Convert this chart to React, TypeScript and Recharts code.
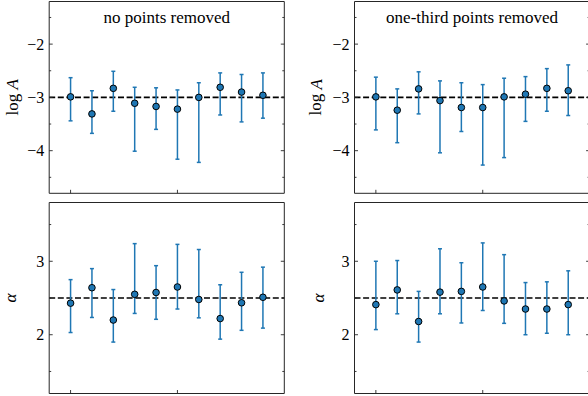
import React from "react";
import { ErrorBar, ReferenceLine, Scatter, ScatterChart, XAxis, YAxis } from "recharts";

const FONT = "'Liberation Serif', 'Times New Roman', serif";
const BLUE = "#1f77b4";
const FRAME = "#262626";

// ten repeated fits, x = run index
const runs = [0, 1, 2, 3, 4, 5, 6, 7, 8, 9];
const xTicks = [0, 5];
const logATicks = [-4.5, -4, -3.5, -3, -2.5, -2, -1.5];
const alphaTicks = [1.5, 2, 2.5, 3, 3.5];
const logATrue = -3;
const alphaTrue = 2.5;

// log A, all points kept
const logAFull = [-2.99, -3.31, -2.83, -3.11, -3.17, -3.22, -3.0, -2.81, -2.9, -2.96];
const logAFullLow = [-3.44, -3.675, -3.26, -4.01, -3.6, -4.16, -4.22, -3.33, -3.46, -3.39];
const logAFullHigh = [-2.63, -2.875, -2.51, -2.81, -2.82, -2.86, -2.725, -2.54, -2.57, -2.54];

// log A, one third of the points removed
const logAThird = [-2.99, -3.24, -2.84, -3.06, -3.19, -3.19, -2.99, -2.94, -2.83, -2.875];
const logAThirdLow = [-3.61, -3.85, -3.31, -4.04, -3.64, -4.27, -4.13, -3.45, -3.26, -3.34];
const logAThirdHigh = [-2.62, -2.84, -2.52, -2.69, -2.725, -2.76, -2.64, -2.61, -2.46, -2.39];

// alpha, all points kept
const alphaFull = [2.43, 2.64, 2.2, 2.55, 2.575, 2.65, 2.48, 2.22, 2.435, 2.51];
const alphaFullLow = [2.03, 2.235, 1.9, 2.29, 2.21, 2.35, 2.23, 1.94, 2.06, 2.09];
const alphaFullHigh = [2.75, 2.9, 2.615, 3.24, 2.94, 3.23, 3.16, 2.68, 2.85, 2.92];

// alpha, one third of the points removed
const alphaThird = [2.41, 2.61, 2.18, 2.58, 2.59, 2.65, 2.46, 2.35, 2.35, 2.41];
const alphaThirdLow = [2.07, 2.285, 1.9, 2.285, 2.16, 2.33, 2.155, 2.0, 2.02, 2.0];
const alphaThirdHigh = [3.0, 3.01, 2.59, 3.17, 2.98, 3.25, 3.09, 2.71, 2.72, 2.87];

function rows(values: number[], low: number[], high: number[]) {
  return runs.map((x, i) => ({
    x,
    y: values[i],
    err: [values[i] - low[i], high[i] - values[i]],
  }));
}

const isMajor = (v: number) => Math.abs(v - Math.round(v)) < 1e-6;
const fmt = (v: number) => (v < 0 ? "\u2212" + Math.abs(v) : String(v));

// ticks point inwards on every side, like matplotlib's direction="in"
function Tick(props: any) {
  const { x, y, payload, side } = props;
  const v = Number(payload.value);
  const len = side === "left" || side === "right" ? (isMajor(v) ? 3.5 : 2) : 3.5;
  if (side === "left") {
    return (
      <g>
        <line x1={x} y1={y} x2={x + len} y2={y} stroke={FRAME} strokeWidth={0.9} />
        {isMajor(v) && (
          <text x={x - 5} y={y} textAnchor="end" dominantBaseline="central" fontFamily={FONT} fontSize={16} fill="#000">
            {fmt(v)}
          </text>
        )}
      </g>
    );
  }
  if (side === "right") return <line x1={x} y1={y} x2={x - len} y2={y} stroke={FRAME} strokeWidth={0.9} />;
  if (side === "top") return <line x1={x} y1={y} x2={x} y2={y + len} stroke={FRAME} strokeWidth={0.9} />;
  return <line x1={x} y1={y} x2={x} y2={y - len} stroke={FRAME} strokeWidth={0.9} />;
}

function Dot(props: any) {
  const { cx, cy } = props;
  return <circle cx={cx} cy={cy} r={3.3} fill={BLUE} stroke="#000" strokeWidth={1} />;
}

interface PanelProps {
  left: number;
  top: number;
  height: number;
  yLeft: number;
  yRight: number;
  xTop: number;
  xBottom: number;
  data: { x: number; y: number; err: number[] }[];
  domain: [number, number];
  ticks: number[];
  truth: number;
  title?: string;
  label: "logA" | "alpha";
  labelOffset: number;
}

function Panel(p: PanelProps) {
  const axis = { stroke: FRAME, strokeWidth: 1 };
  return (
    <div style={{ position: "absolute", left: p.left, top: p.top }}>
      <ScatterChart width={300} height={p.height} margin={{ top: 0, right: 0, bottom: 0, left: 0 }}>
        <XAxis
          xAxisId="b"
          type="number"
          dataKey="x"
          domain={[-1, 10]}
          ticks={xTicks}
          interval={0}
          height={p.xBottom}
          axisLine={axis}
          tickLine={false}
          tickSize={0}
          tickMargin={0}
          tick={<Tick side="bottom" />}
        />
        <XAxis
          xAxisId="t"
          orientation="top"
          type="number"
          domain={[-1, 10]}
          ticks={xTicks}
          interval={0}
          height={p.xTop}
          axisLine={axis}
          tickLine={false}
          tickSize={0}
          tickMargin={0}
          tick={<Tick side="top" />}
          label={(lp: any) => {
            if (!p.title) return null;
            const vb = lp.viewBox || {};
            return (
              <text x={vb.x + vb.width / 2} y={23} textAnchor="middle" fontFamily={FONT} fontSize={17} fill="#000">
                {p.title}
              </text>
            );
          }}
        />
        <YAxis
          yAxisId="l"
          type="number"
          dataKey="y"
          domain={p.domain}
          ticks={p.ticks}
          interval={0}
          width={p.yLeft}
          axisLine={axis}
          tickLine={false}
          tickSize={0}
          tickMargin={0}
          allowDataOverflow
          tick={<Tick side="left" />}
          label={(lp: any) => {
            const vb = lp.viewBox || {};
            const cx = vb.x + vb.width - p.labelOffset;
            const cy = vb.y + vb.height / 2;
            return (
              <text
                x={cx}
                y={cy}
                transform={`rotate(-90 ${cx} ${cy})`}
                textAnchor="middle"
                dominantBaseline="central"
                fontFamily={FONT}
                fontSize={17}
                fill="#000"
              >
                {p.label === "logA" ? (
                  <>
                    log <tspan fontStyle="italic">A</tspan>
                  </>
                ) : (
                  <tspan fontStyle="italic">α</tspan>
                )}
              </text>
            );
          }}
        />
        <YAxis
          yAxisId="r"
          orientation="right"
          type="number"
          domain={p.domain}
          ticks={p.ticks}
          interval={0}
          width={p.yRight}
          axisLine={axis}
          tickLine={false}
          tickSize={0}
          tickMargin={0}
          allowDataOverflow
          tick={<Tick side="right" />}
        />
        <ReferenceLine
          xAxisId="b"
          yAxisId="l"
          y={p.truth}
          stroke="#000"
          strokeWidth={1.6}
          strokeDasharray="6 2.6"
        />
        <Scatter xAxisId="b" yAxisId="l" data={p.data} shape={<Dot />} isAnimationActive={false}>
          <ErrorBar dataKey="err" direction="y" width={2} stroke={BLUE} strokeWidth={1.5} isAnimationActive={false} />
        </Scatter>
      </ScatterChart>
    </div>
  );
}

export default function App() {
  return (
    <div
      style={{
        position: "absolute",
        left: 0,
        top: 0,
        width: 588,
        height: 396,
        overflow: "hidden",
        background: "#fff",
      }}
    >
      <Panel
        left={0}
        top={0}
        height={200}
        yLeft={49.2}
        yRight={15.7}
        xTop={1.5}
        xBottom={6.7}
        data={rows(logAFull, logAFullLow, logAFullHigh)}
        domain={[-4.8, -1.2]}
        ticks={logATicks}
        truth={logATrue}
        title="no points removed"
        label="logA"
        labelOffset={37}
      />
      <Panel
        left={300}
        top={0}
        height={200}
        yLeft={54.5}
        yRight={10.4}
        xTop={1.5}
        xBottom={6.7}
        data={rows(logAThird, logAThirdLow, logAThirdHigh)}
        domain={[-4.8, -1.2]}
        ticks={logATicks}
        truth={logATrue}
        title="one-third points removed"
        label="logA"
        labelOffset={38.7}
      />
      <Panel
        left={0}
        top={200}
        height={196}
        yLeft={49.2}
        yRight={15.7}
        xTop={2.5}
        xBottom={2.5}
        data={rows(alphaFull, alphaFullLow, alphaFullHigh)}
        domain={[1.2, 3.8]}
        ticks={alphaTicks}
        truth={alphaTrue}
        label="alpha"
        labelOffset={39}
      />
      <Panel
        left={300}
        top={200}
        height={196}
        yLeft={54.5}
        yRight={10.4}
        xTop={2.5}
        xBottom={2.5}
        data={rows(alphaThird, alphaThirdLow, alphaThirdHigh)}
        domain={[1.2, 3.8]}
        ticks={alphaTicks}
        truth={alphaTrue}
        label="alpha"
        labelOffset={36.2}
      />
    </div>
  );
}
